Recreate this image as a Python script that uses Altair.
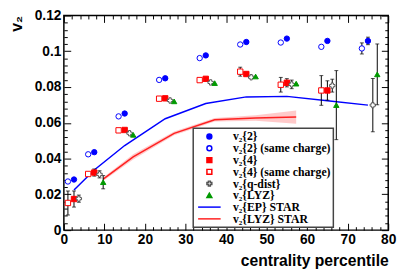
import altair as alt
import pandas as pd

# ---------------- data ----------------
names = ["v₂{2}", "v₂{2} (same charge)", "v₂{4}", "v₂{4} (same charge)",
         "v₂{q-dist}", "v₂{LYZ}", "v₂{EP} STAR", "v₂{LYZ} STAR"]

v22_x = [2.5, 7.5, 15, 25, 35, 45, 55, 65, 75]
v22_y = [0.0283, 0.0436, 0.0652, 0.0849, 0.0977, 0.1052, 0.1071, 0.1058, 0.1058]
v22_e = [0, 0, 0, 0, 0, 0, 0, 0, 0.0021]

v22s_x = [1, 6, 13.5, 23.5, 33.5, 43.5, 53.5, 63.5, 73.5]
v22s_y = [0.0272, 0.0424, 0.0636, 0.0840, 0.0962, 0.1038, 0.1049, 0.1025, 0.1016]
v22s_e = [0, 0, 0, 0, 0, 0, 0, 0, 0.0031]

v24_x = [2.5, 7.5, 15, 25, 35, 45, 55, 65]
v24_y = [0.0174, 0.0322, 0.0560, 0.0737, 0.0846, 0.0873, 0.0824, 0.0781]
v24_e = [0.0045, 0.0020, 0, 0, 0, 0.0010, 0.0023, 0.0054]

v24s_x = [1, 6, 13.5, 23.5, 33.5, 43.5, 53.5, 63.5]
v24s_y = [0.0152, 0.0314, 0.0558, 0.0735, 0.0839, 0.0886, 0.0813, 0.0781]
v24s_e = [0.0067, 0, 0, 0, 0, 0.0025, 0.0041, 0.0083]

vq_x = [3.7, 8.8, 16.2, 26.2, 36.2, 46.2, 56.2, 66.2, 76.2]
vq_y = [0.0176, 0.0312, 0.0542, 0.0725, 0.0826, 0.0855, 0.0815, 0.0808, 0.0699]
vq_e = [0.0020, 0.0020, 0, 0, 0, 0, 0.0024, 0.0036, 0.0149]

vlyz_x = [9.7, 17.1, 27.2, 37.2, 47.3, 57.3, 67.2, 77.3]
vlyz_y = [0.0268, 0.0533, 0.0720, 0.0822, 0.0859, 0.0819, 0.0699, 0.0871]
vlyz_e = [0.0037, 0, 0, 0, 0, 0, 0.0193, 0.0170]

ep_x = [2.5, 7.5, 15, 25, 35, 45, 55, 65, 75]
ep_y = [0.0224, 0.0336, 0.0473, 0.0623, 0.0708, 0.0745, 0.0748, 0.0723, 0.0699]

lyzs_x = [9.7, 17.1, 27.2, 37.2, 47.3, 57.3]
lyzs_y = [0.0285, 0.0410, 0.0541, 0.0617, 0.0627, 0.0632]
lyzs_e = [0.0010, 0.0015, 0.0010, 0.0010, 0.0015, 0.0037]

x_major = [0, 10, 20, 30, 40, 50, 60, 70, 80]
x_minor = [v for v in range(0, 81, 2) if v % 10 != 0]
y_major = [0, 0.02, 0.04, 0.06, 0.08, 0.1, 0.12]
y_minor = [round(k * 0.004, 3) for k in range(0, 31) if k % 5 != 0]

# ---------------- tables ----------------
rows = []
for nm, xs_, ys_, es_ in [(names[0], v22_x, v22_y, v22_e), (names[1], v22s_x, v22s_y, v22s_e),
                          (names[2], v24_x, v24_y, v24_e), (names[3], v24s_x, v24s_y, v24s_e),
                          (names[4], vq_x, vq_y, vq_e), (names[5], vlyz_x, vlyz_y, vlyz_e)]:
    for a, b, c in zip(xs_, ys_, es_):
        rows.append({"series": nm, "x": a, "y": b, "err": c, "lo": b - c, "hi": b + c})
pts = pd.DataFrame(rows)
errs = pts[pts["err"] > 0].reset_index(drop=True)
caps = pd.concat([errs.assign(yc=errs["lo"]), errs.assign(yc=errs["hi"])], ignore_index=True)

lines = pd.DataFrame(
    [{"series": names[6], "x": a, "y": b} for a, b in zip(ep_x, ep_y)] +
    [{"series": names[7], "x": a, "y": b} for a, b in zip(lyzs_x, lyzs_y)]
)
band = pd.DataFrame({"x": lyzs_x, "lo": [b - e for b, e in zip(lyzs_y, lyzs_e)],
                     "hi": [b + e for b, e in zip(lyzs_y, lyzs_e)]})

# ---------------- scales / styles ----------------
W, H = 331, 219
xs = alt.Scale(domain=[0, 80], nice=False, zero=False)
ys = alt.Scale(domain=[0, 0.12], nice=False, zero=False)

line_sym = "M-4.6,0H4.6"
shape_range = ["circle", "circle", "square", "square", "cross", "triangle-up", line_sym, line_sym]
fill_range = ["#0000ff", "#ffffff", "#ff0000", "#ffffff", "#ffffff", "#009900", "transparent", "transparent"]
stroke_range = ["#0000ff", "#0000ff", "#ff0000", "#ff0000", "#555555", "#009900", "#0000ff", "#ff2020"]

leg = alt.Legend(title=None, orient="none", legendX=132, legendY=115, padding=2.5,
                 rowPadding=-0.3, symbolOffset=8, labelOffset=18, symbolSize=25,
                 symbolStrokeWidth=1.5, labelFont="Liberation Serif", labelFontWeight="bold",
                 labelFontSize=12, labelColor="black", strokeColor="#444444", fillColor="white")

shape_enc = alt.Shape("series:N", scale=alt.Scale(domain=names, range=shape_range), legend=leg)
fill_enc = alt.Fill("series:N", scale=alt.Scale(domain=names, range=fill_range), legend=leg)
stroke_enc = alt.Stroke("series:N", scale=alt.Scale(domain=names, range=stroke_range), legend=leg)


def tick_axis(orient, values, size, offset):
    return alt.Axis(orient=orient, values=values, tickSize=size, offset=offset, labels=False,
                    domain=False, grid=False, title=None, ticks=True, tickColor="black", tickWidth=1)


x_lab = alt.Axis(orient="bottom", values=x_major, ticks=False, tickSize=0, domain=False, grid=False,
                 labelPadding=3, format="d", labelFlush=False, labelOverlap=False,
                 title="centrality percentile", titleAnchor="end", titlePadding=6)
y_lab = alt.Axis(orient="left", values=y_major, ticks=False, tickSize=0, domain=False, grid=False,
                 labelPadding=3, format=".2~f", labelFlush=False, labelOverlap=False,
                 title="v₂", titleAnchor="end", titlePadding=10, titleY=0)

base_pts = alt.Chart(pts)

band_layer = alt.Chart(band).mark_area(color="#ffb4b4", opacity=0.7).encode(
    x=alt.X("x:Q", scale=xs, axis=None),
    y=alt.Y("lo:Q", scale=ys, axis=None),
    y2="hi:Q",
)

line_layer = alt.Chart(lines).mark_line(strokeWidth=1.5).encode(
    x=alt.X("x:Q", scale=xs, axis=None),
    y=alt.Y("y:Q", scale=ys, axis=None),
    stroke=stroke_enc,
)

err_layer = alt.Chart(errs).mark_rule(color="black", strokeWidth=1).encode(
    x=alt.X("x:Q", scale=xs, axis=None),
    y=alt.Y("lo:Q", scale=ys, axis=None),
    y2="hi:Q",
)

cap_layer = alt.Chart(caps).mark_tick(color="black", orient="horizontal", size=4, thickness=1).encode(
    x=alt.X("x:Q", scale=xs, axis=None),
    y=alt.Y("yc:Q", scale=ys, axis=None),
)

point_layer = base_pts.mark_point(size=30, opacity=1, strokeWidth=1).encode(
    x=alt.X("x:Q", scale=xs, axis=x_lab),
    y=alt.Y("y:Q", scale=ys, axis=y_lab),
    shape=shape_enc, fill=fill_enc, stroke=stroke_enc,
)

ax1 = base_pts.mark_point(opacity=0).encode(
    x=alt.X("x:Q", scale=xs, axis=tick_axis("top", x_major, 7, -H)),
    y=alt.Y("y:Q", scale=ys, axis=tick_axis("right", y_major, 7, -W)))
ax2 = base_pts.mark_point(opacity=0).encode(
    x=alt.X("x:Q", scale=xs, axis=tick_axis("top", x_minor, 3.5, -H)),
    y=alt.Y("y:Q", scale=ys, axis=tick_axis("right", y_minor, 3.5, -W)))
ax3 = base_pts.mark_point(opacity=0).encode(
    x=alt.X("x:Q", scale=xs, axis=tick_axis("bottom", x_major, 7, -H)),
    y=alt.Y("y:Q", scale=ys, axis=tick_axis("left", y_major, 7, -W)))
ax4 = base_pts.mark_point(opacity=0).encode(
    x=alt.X("x:Q", scale=xs, axis=tick_axis("bottom", x_minor, 3.5, -H)),
    y=alt.Y("y:Q", scale=ys, axis=tick_axis("left", y_minor, 3.5, -W)))

chart = alt.layer(
    band_layer, line_layer, err_layer, cap_layer, point_layer, ax1, ax2, ax3, ax4
).resolve_axis(x="independent", y="independent").properties(
    width=W, height=H,
    autosize=alt.AutoSizeParams(type="none"),
    padding={"left": 57, "top": 5, "right": 11, "bottom": 38},
    background="white",
).configure_view(
    stroke="black", strokeWidth=1.5
).configure_axis(
    labelFont="Liberation Sans", labelFontWeight="bold", labelFontSize=14, labelColor="black",
    titleFont="Liberation Sans", titleFontWeight="bold", titleFontSize=16, titleColor="black",
    grid=False
).configure_legend(
    strokeWidth=1.5
)

chart.save("out.html", embed_options={"renderer": "svg", "actions": False})
